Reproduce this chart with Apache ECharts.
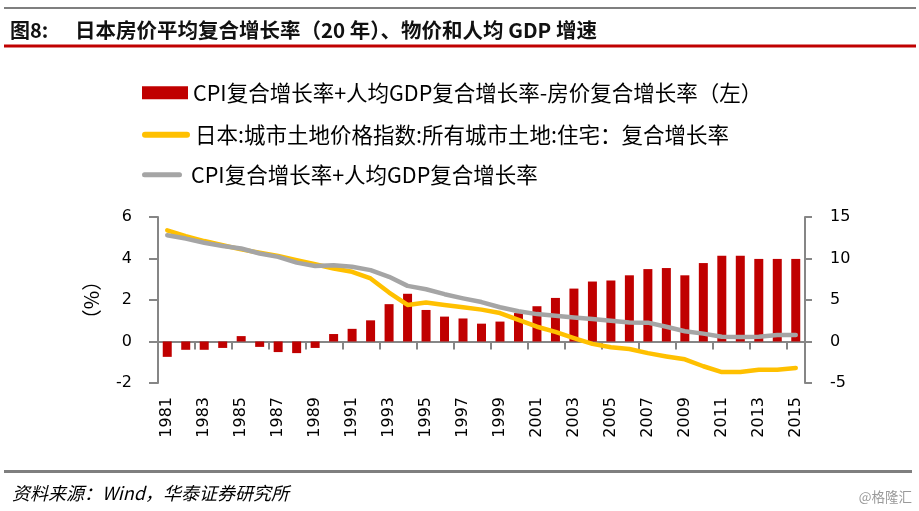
<!DOCTYPE html>
<html>
<head>
<meta charset="utf-8">
<script src="https://cdn.jsdelivr.net/npm/echarts@6/dist/echarts.min.js"></script>
<style>html,body{margin:0;padding:0;background:#fff;}#c{width:919px;height:511px;}</style>
</head>
<body>
<div id="c"></div>
<script>
const years = ['1981','1982','1983','1984','1985','1986','1987','1988','1989','1990','1991','1992','1993','1994','1995','1996','1997','1998','1999','2000','2001','2002','2003','2004','2005','2006','2007','2008','2009','2010','2011','2012','2013','2014','2015'];
const gapSeries = [-0.74,-0.40,-0.40,-0.31,0.26,-0.26,-0.51,-0.56,-0.31,0.36,0.61,1.02,1.80,2.30,1.52,1.20,1.11,0.86,0.96,1.37,1.70,2.10,2.55,2.89,2.94,3.19,3.49,3.54,3.19,3.78,4.13,4.13,3.98,3.98,3.98];
const landSeries = [13.4,12.7,12.1,11.6,11.1,10.7,10.3,9.8,9.3,8.8,8.4,7.6,5.9,4.4,4.7,4.4,4.13,3.84,3.43,2.6,1.78,1.16,0.41,-0.29,-0.7,-0.9,-1.4,-1.8,-2.15,-2.98,-3.68,-3.68,-3.4,-3.4,-3.2];
const cpiGdpSeries = [12.8,12.4,11.9,11.5,11.2,10.6,10.2,9.5,9.1,9.2,9.0,8.6,7.8,6.7,6.3,5.7,5.2,4.75,4.13,3.64,3.3,3.1,2.9,2.7,2.5,2.3,2.27,1.78,1.24,0.95,0.58,0.54,0.58,0.79,0.79];
const names = ['CPI复合增长率+人均GDP复合增长率-房价复合增长率（左）','日本:城市土地价格指数:所有城市土地:住宅：复合增长率','CPI复合增长率+人均GDP复合增长率'];
const leftTicks = {min:-2,max:6,interval:2};
const rightTicks = {min:-5,max:15,interval:5};
const titleLabel = '图8:';
const titleText = '日本房价平均复合增长率（20 年）、物价和人均 GDP 增速';
const sourceText = '资料来源：Wind，华泰证券研究所';
const watermark = '@格隆汇';

const AX = '#868686';
const CJK = '"Noto Sans CJK SC", sans-serif';
const NUM = '"DejaVu Sans", sans-serif';
const capsule = 'path://M3,0 L45,0 A3,3 0 0 1 45,6 L3,6 A3,3 0 0 1 3,0 Z';

const chart = echarts.init(document.getElementById('c'), null, {renderer:'canvas'});
const legendBase = {orient:'horizontal', left:142, padding:0, itemGap:0, selectedMode:false,
  textStyle:{fontSize:21.5, color:'#000', fontFamily:CJK}};
chart.setOption({
  animation:false,
  backgroundColor:'#fff',
  grid:{left:158, right:114, top:217, bottom:128, containLabel:false},
  legend:[
    Object.assign({}, legendBase, {top:82, itemWidth:46, itemHeight:13, data:[{name:names[0], icon:'rect'}]}),
    Object.assign({}, legendBase, {top:124, itemWidth:48, itemHeight:6, data:[{name:names[1], icon:capsule}]}),
    Object.assign({}, legendBase, {top:164, itemWidth:48, itemHeight:5, data:[{name:names[2], icon:capsule}]})
  ],
  xAxis:[
    {type:'category', data:years, position:'bottom', boundaryGap:true,
     axisLine:{show:true, onZero:true, lineStyle:{color:AX, width:2}},
     axisTick:{show:true, interval:1, length:8, lineStyle:{color:AX, width:2}},
     axisLabel:{show:false}, splitLine:{show:false}},
    {type:'category', data:years, position:'bottom', boundaryGap:true,
     axisLine:{show:false, onZero:false}, axisTick:{show:false}, splitLine:{show:false},
     axisLabel:{show:true, rotate:90, interval:1, margin:14, fontSize:16, color:'#000', fontFamily:NUM}}
  ],
  yAxis:[
    {type:'value', min:leftTicks.min, max:leftTicks.max, interval:leftTicks.interval, position:'left',
     name:'（%）', nameLocation:'middle', nameRotate:90, nameGap:57,
     nameTextStyle:{fontSize:20, color:'#000', fontFamily:CJK},
     axisLine:{show:true, lineStyle:{color:AX, width:2}},
     axisTick:{show:true, length:9, lineStyle:{color:AX, width:2}},
     splitLine:{show:false},
     axisLabel:{margin:26, fontSize:16, color:'#000', fontFamily:NUM}},
    {type:'value', min:rightTicks.min, max:rightTicks.max, interval:rightTicks.interval, position:'right',
     axisLine:{show:true, lineStyle:{color:AX, width:2}},
     axisTick:{show:true, length:7, lineStyle:{color:AX, width:2}},
     splitLine:{show:false},
     axisLabel:{margin:25, fontSize:16, color:'#000', fontFamily:NUM}}
  ],
  series:[
    {name:names[0], type:'bar', xAxisIndex:0, yAxisIndex:0, data:gapSeries, barWidth:9,
     itemStyle:{color:'#C00000'}, z:2},
    {name:names[1], type:'line', xAxisIndex:0, yAxisIndex:1, data:landSeries, symbol:'none',
     lineStyle:{color:'#FFC000', width:4.5, cap:'round', join:'round'}, itemStyle:{color:'#FFC000'}, z:3},
    {name:names[2], type:'line', xAxisIndex:0, yAxisIndex:1, data:cpiGdpSeries, symbol:'none',
     lineStyle:{color:'#A5A5A5', width:4.5, cap:'round', join:'round'}, itemStyle:{color:'#A5A5A5'}, z:4}
  ],
  graphic:[
    {type:'line', shape:{x1:4, y1:8, x2:916, y2:8}, style:{stroke:'#7F7F7F', lineWidth:2}},
    {type:'text', x:10, y:30, style:{text:titleLabel, font:'bold 20px ' + CJK, fill:'#111', verticalAlign:'middle'}},
    {type:'text', x:75, y:30, style:{text:titleText, font:'bold 20.5px ' + CJK, fill:'#111', verticalAlign:'middle'}},
    {type:'line', shape:{x1:4, y1:46, x2:916, y2:46}, style:{stroke:'#C00000', lineWidth:3}},
    {type:'line', shape:{x1:4, y1:471.5, x2:912, y2:471.5}, style:{stroke:'#7F7F7F', lineWidth:3}},
    {type:'text', x:12, y:493, style:{text:sourceText, font:'italic 18px ' + CJK, fill:'#000', verticalAlign:'middle'}},
    {type:'text', x:912, y:497, style:{text:watermark, font:'13.5px ' + CJK, fill:'#999', align:'right', verticalAlign:'middle'}}
  ]
});
</script>
</body>
</html>
